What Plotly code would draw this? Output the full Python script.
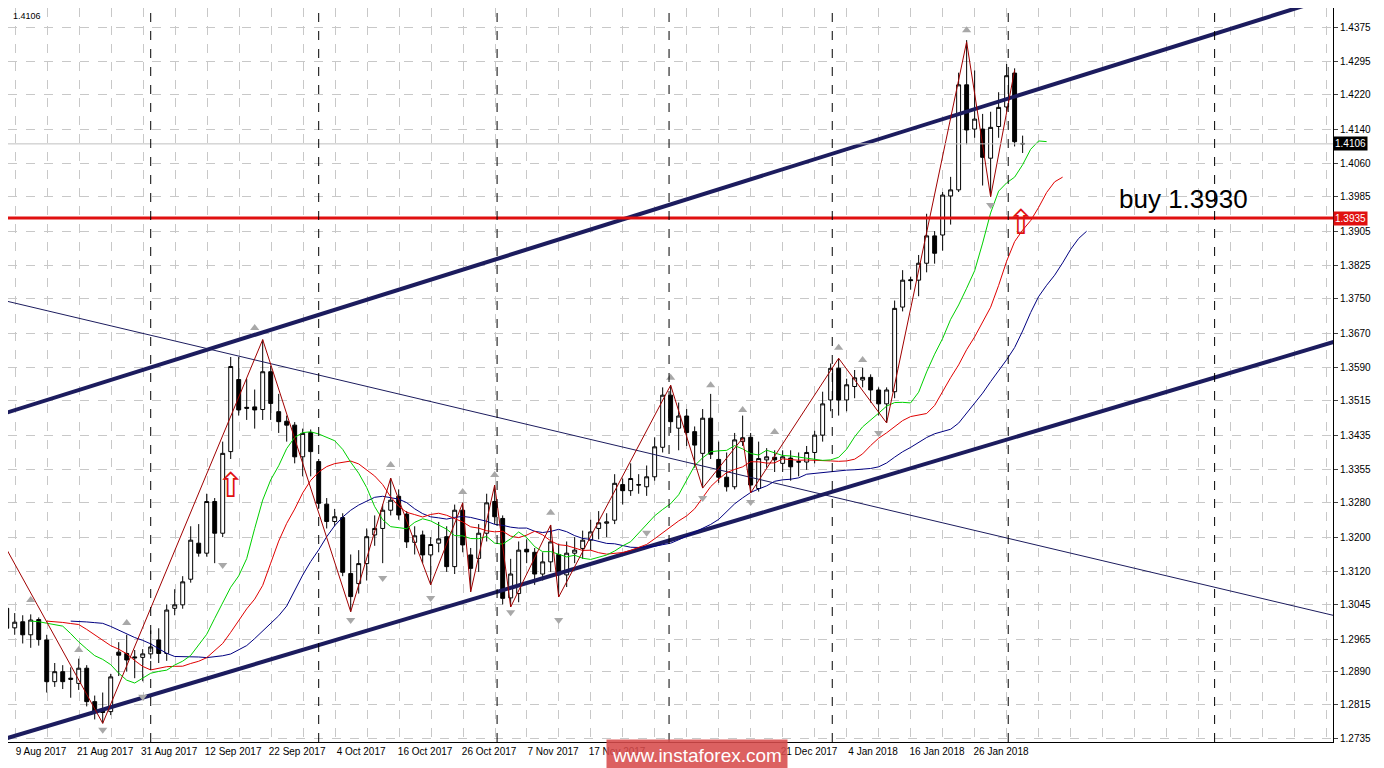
import plotly.graph_objects as go
import pandas as pd

# candle data (bar index 0 = first visible bar)
opens = [1.3036,1.2991,1.3005,1.2975,1.3010,1.2963,1.2867,1.2890,1.2872,1.2863,
         1.2898,1.2821,1.2800,1.2798,1.2935,1.2932,1.2924,1.2923,1.2931,1.2963,
         1.2932,1.3036,1.3044,1.3103,1.3186,1.3163,1.3282,1.3209,1.3397,1.3563,
         1.3499,1.3500,1.3494,1.3581,1.3489,1.3467,1.3458,1.3385,1.3441,1.3374,
         1.3276,1.3236,1.3245,1.3116,1.3093,1.3139,1.3205,1.3220,1.3262,1.3294,
         1.3253,1.3188,1.3205,1.3159,1.3186,1.3201,1.3132,1.3262,1.3159,1.3151,
         1.3209,1.3282,1.3243,1.3060,1.3070,1.3172,1.3165,1.3115,1.3143,1.3160,
         1.3113,1.3163,1.3174,1.3193,1.3220,1.3232,1.3239,1.3321,1.3307,1.3321,
         1.3316,1.3339,1.3407,1.3527,1.3451,1.3479,1.3443,1.3393,1.3474,1.3379,
         1.3338,1.3316,1.3420,1.3430,1.3312,1.3378,1.3384,1.3370,1.3382,1.3374,
         1.3373,1.3395,1.3435,1.3516,1.3589,1.3516,1.3547,1.3562,1.3568,1.3539,
         1.3507,1.3535,1.3730,1.3793,1.3792,1.3831,1.3894,1.3896,1.3986,1.4000,
         1.4242,1.4140,1.4140,1.4073,1.4146,1.4191,1.4269,1.4107]
closes = [1.2990,1.3004,1.2975,1.3009,1.2964,1.2867,1.2890,1.2867,1.2875,1.2898,
          1.2821,1.2798,1.2796,1.2878,1.2928,1.2917,1.2922,1.2931,1.2947,1.2932,
          1.3032,1.3044,1.3097,1.3193,1.3163,1.3282,1.3209,1.3393,1.3593,1.3493,
          1.3497,1.3493,1.3581,1.3508,1.3466,1.3458,1.3385,1.3439,1.3397,1.3278,
          1.3236,1.3247,1.3119,1.3063,1.3139,1.3201,1.3220,1.3262,1.3285,1.3251,
          1.3189,1.3203,1.3159,1.3183,1.3196,1.3132,1.3262,1.3182,1.3128,1.3209,
          1.3279,1.3247,1.3059,1.3115,1.3170,1.3166,1.3115,1.3143,1.3189,1.3113,
          1.3163,1.3170,1.3193,1.3212,1.3233,1.3235,1.3324,1.3307,1.3335,1.3320,
          1.3339,1.3408,1.3527,1.3466,1.3479,1.3441,1.3412,1.3474,1.3391,1.3338,
          1.3316,1.3424,1.3429,1.3320,1.3381,1.3385,1.3378,1.3385,1.3362,1.3373,
          1.3395,1.3435,1.3507,1.3589,1.3516,1.3551,1.3567,1.3568,1.3539,1.3507,
          1.3539,1.3727,1.3792,1.3791,1.3831,1.3894,1.3854,1.3988,1.4000,1.4242,
          1.4138,1.4163,1.4075,1.4144,1.4190,1.4263,1.4111,1.4106]
highs = [1.3048,1.3025,1.3020,1.3022,1.3015,1.2975,1.2910,1.2905,1.2900,1.2920,
         1.2905,1.2835,1.2842,1.2885,1.2958,1.2975,1.2940,1.2942,1.2985,1.2990,
         1.3045,1.3080,1.3110,1.3225,1.3230,1.3300,1.3290,1.3420,1.3615,1.3615,
         1.3565,1.3540,1.3655,1.3595,1.3530,1.3480,1.3465,1.3450,1.3448,1.3380,
         1.3290,1.3265,1.3255,1.3160,1.3170,1.3220,1.3250,1.3275,1.3336,1.3310,
         1.3260,1.3225,1.3215,1.3200,1.3235,1.3225,1.3275,1.3279,1.3175,1.3230,
         1.3300,1.3320,1.3250,1.3150,1.3190,1.3195,1.3175,1.3165,1.3228,1.3185,
         1.3190,1.3200,1.3215,1.3240,1.3260,1.3255,1.3345,1.3335,1.3370,1.3345,
         1.3365,1.3430,1.3545,1.3550,1.3510,1.3495,1.3455,1.3495,1.3530,1.3420,
         1.3395,1.3440,1.3480,1.3440,1.3420,1.3405,1.3400,1.3400,1.3400,1.3395,
         1.3410,1.3445,1.3535,1.3600,1.3612,1.3565,1.3585,1.3590,1.3575,1.3545,
         1.3545,1.3745,1.3815,1.3800,1.3850,1.3945,1.3905,1.3995,1.4030,1.4270,
         1.4345,1.4275,1.4175,1.4180,1.4225,1.4290,1.4280,1.4125]
lows = [1.2965,1.2975,1.2955,1.2945,1.2950,1.2842,1.2855,1.2850,1.2830,1.2848,
        1.2810,1.2780,1.2771,1.2790,1.2880,1.2890,1.2875,1.2868,1.2920,1.2910,
        1.2915,1.3020,1.3035,1.3095,1.3155,1.3155,1.3140,1.3200,1.3380,1.3480,
        1.3470,1.3450,1.3470,1.3470,1.3440,1.3420,1.3370,1.3340,1.3340,1.3265,
        1.3220,1.3225,1.3110,1.3028,1.3070,1.3100,1.3180,1.3140,1.3250,1.3240,
        1.3175,1.3160,1.3140,1.3090,1.3165,1.3120,1.3115,1.3165,1.3074,1.3120,
        1.3190,1.3230,1.3045,1.3039,1.3050,1.3140,1.3090,1.3100,1.3120,1.3062,
        1.3085,1.3140,1.3150,1.3170,1.3195,1.3200,1.3230,1.3275,1.3295,1.3300,
        1.3295,1.3330,1.3395,1.3440,1.3400,1.3410,1.3360,1.3313,1.3380,1.3325,
        1.3305,1.3310,1.3410,1.3302,1.3305,1.3360,1.3350,1.3350,1.3330,1.3340,
        1.3355,1.3370,1.3420,1.3490,1.3480,1.3490,1.3520,1.3545,1.3510,1.3480,
        1.3463,1.3520,1.3720,1.3770,1.3755,1.3810,1.3830,1.3860,1.3920,1.3995,
        1.4105,1.4120,1.4010,1.3984,1.4120,1.4180,1.4100,1.4085]
bars = list(range(len(opens)))

# zigzag pivots (bar index, price)
zz_idx = [-1.0, 12, 32, 43, 48, 53, 57, 58, 61, 63, 68, 69, 83, 87, 92, 93, 104, 110, 120, 123, 126]
zz_price = [1.3205, 1.2771, 1.3655, 1.3028, 1.3336, 1.3090, 1.3279, 1.3074, 1.3320, 1.3039, 1.3228,
            1.3062, 1.3550, 1.3313, 1.3428, 1.3302, 1.3612, 1.3463, 1.4341, 1.3984, 1.4276]

# fractal arrows
frac_up_idx = [3, 9, 15, 31, 48, 57, 61, 68, 83, 88, 92, 96, 104, 107, 120]
frac_up_price = [1.3055, 1.2940, 1.3002, 1.3682, 1.3366, 1.3304, 1.3343, 1.3256, 1.3567, 1.3550,
                 1.3493, 1.3442, 1.3636, 1.3608, 1.4368]
frac_dn_idx = [12, 17, 27, 43, 47, 53, 63, 69, 80, 87, 93, 109, 123]
frac_dn_price = [1.2756, 1.2832, 1.3136, 1.3009, 1.3106, 1.3060, 1.3027, 1.3009, 1.3210, 1.3290,
                 1.3281, 1.3440, 1.3965]

# analyst lines
upper_ch_x = [-1.0, 164.4]
upper_ch_y = [1.3481, 1.4437]
lower_ch_x = [-1.0, 166.7]
lower_ch_y = [1.2731, 1.3654]
thin_x = [-1.0, 166.7]
thin_y = [1.3748, 1.3016]
buy_level = 1.3935
last_price = 1.4106
signal_idx = [28.0, 126.8]
signal_price = [1.3313, 1.3919]

month_lines = [18.0, 39.0, 61.3, 82.8, 103.2, 125.2, 151.0]
date_labels = ["9 Aug 2017", "21 Aug 2017", "31 Aug 2017", "12 Sep 2017", "22 Sep 2017",
               "4 Oct 2017", "16 Oct 2017", "26 Oct 2017", "7 Nov 2017", "17 Nov 2017",
               "", "", "21 Dec 2017", "4 Jan 2018", "16 Jan 2018", "26 Jan 2018"]
price_ticks = [1.2735, 1.2815, 1.2890, 1.2965, 1.3045, 1.3120, 1.3200, 1.3280, 1.3355, 1.3435,
               1.3515, 1.3590, 1.3670, 1.3750, 1.3825, 1.3905, 1.3985, 1.4060, 1.4140, 1.4220,
               1.4295, 1.4375]

# Alligator (smoothed MA of median price, shifted forward)
df = pd.DataFrame({"h": highs, "l": lows})
med = (df.h + df.l) / 2
def smma(n, shift):
    s = med.ewm(alpha=1.0 / n, adjust=False).mean()
    return [i + shift for i in bars], s.tolist()
jaw_x, jaw_y = smma(13, 8)
teeth_x, teeth_y = smma(8, 5)
lips_x, lips_y = smma(5, 3)

fig = go.Figure()
fig.add_trace(go.Scatter(x=upper_ch_x, y=upper_ch_y, mode="lines", line=dict(color="#1c1c5e", width=4)))
fig.add_trace(go.Scatter(x=lower_ch_x, y=lower_ch_y, mode="lines", line=dict(color="#1c1c5e", width=4)))
fig.add_trace(go.Scatter(x=thin_x, y=thin_y, mode="lines", line=dict(color="#1c1c5e", width=1)))
fig.add_trace(go.Scatter(x=jaw_x, y=jaw_y, mode="lines", line=dict(color="#000080", width=1)))
fig.add_trace(go.Scatter(x=teeth_x, y=teeth_y, mode="lines", line=dict(color="#e00000", width=1)))
fig.add_trace(go.Scatter(x=lips_x, y=lips_y, mode="lines", line=dict(color="#00d000", width=1)))
fig.add_trace(go.Scatter(x=zz_idx, y=zz_price, mode="lines", line=dict(color="#a00000", width=1)))
fig.add_trace(go.Candlestick(
    x=bars, open=opens, high=highs, low=lows, close=closes,
    increasing=dict(line=dict(color="black", width=1), fillcolor="white"),
    decreasing=dict(line=dict(color="black", width=1), fillcolor="black"),
    whiskerwidth=0))
fig.add_trace(go.Scatter(x=frac_up_idx, y=frac_up_price, mode="markers",
                         marker=dict(symbol="triangle-up", size=8, color="#a8a8a8")))
fig.add_trace(go.Scatter(x=frac_dn_idx, y=frac_dn_price, mode="markers",
                         marker=dict(symbol="triangle-down", size=8, color="#a8a8a8")))
fig.add_trace(go.Scatter(x=signal_idx, y=signal_price, mode="text", text=["⇧", "⇧"],
                         textfont=dict(family="DejaVu Sans", size=34, color="#e01010")))

fig.add_hline(y=buy_level, line=dict(color="#e01010", width=3))
fig.add_hline(y=last_price, line=dict(color="#c0c0c0", width=1))
for m in month_lines:
    fig.add_vline(x=m, line=dict(color="black", width=1, dash="dash"))

fig.add_annotation(x=(1117 - 6.7) / 8, y=buy_level + 0.0005, xanchor="left", yanchor="bottom",
                   text="buy 1.3930", showarrow=False, font=dict(family="Arial", size=26, color="black"))
fig.add_annotation(x=1, xref="paper", y=last_price, xanchor="left", text="1.4106", showarrow=False,
                   bgcolor="black", font=dict(family="Arial", size=10, color="white"), borderpad=1)
fig.add_annotation(x=1, xref="paper", y=buy_level, xanchor="left", text="1.3935", showarrow=False,
                   bgcolor="#e01010", font=dict(family="Arial", size=10, color="white"), borderpad=1)
fig.add_annotation(x=0.002, xref="paper", y=0.998, yref="paper", xanchor="left", yanchor="top",
                   text="1.4106", showarrow=False, font=dict(family="Arial", size=9, color="black"))
fig.add_annotation(x=0.52, xref="paper", y=-0.018, yref="paper", yanchor="middle",
                   text="www.instaforex.com", showarrow=False,
                   bgcolor="rgba(215,75,75,0.88)", borderpad=5,
                   font=dict(family="Arial", size=19, color="white"))

# page body has an 8px offset, so the figure is sized 8px smaller
fig.update_layout(
    width=1376, height=760, showlegend=False,
    margin=dict(l=0, r=51, t=0, b=26),
    plot_bgcolor="white", paper_bgcolor="white",
    font=dict(family="Arial", size=10, color="black"),
    xaxis=dict(range=[0.16, 165.8], rangeslider=dict(visible=False),
               tickvals=[4.3 + 8 * k for k in range(len(date_labels))], ticktext=date_labels,
               showgrid=False, showline=True, mirror=True, linecolor="black", zeroline=False,
               tickfont=dict(size=10),
               minor=dict(tick0=1.04, dtick=4, showgrid=True, gridcolor="#c8c8c8", griddash="dash")),
    yaxis=dict(range=[1.2728, 1.4419], side="right", tickvals=price_ticks,
               ticktext=["%.4f" % v for v in price_ticks], ticks="outside", ticklen=4,
               showgrid=True, gridcolor="#c8c8c8", griddash="dash",
               showline=True, mirror=True, linecolor="black", zeroline=False),
)
fig.write_html("out.html")
